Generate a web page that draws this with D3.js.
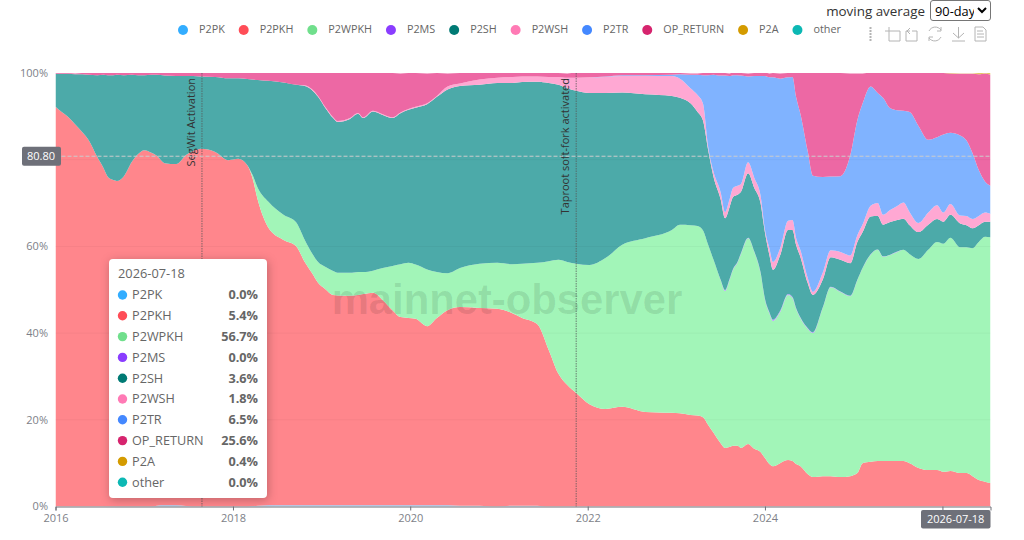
<!DOCTYPE html>
<html>
<head>
<meta charset="utf-8">
<script src="https://cdn.jsdelivr.net/npm/d3@7/dist/d3.min.js"></script>
<style>
  html, body { margin: 0; padding: 0; background: #fff; }
  body { width: 1024px; height: 540px; overflow: hidden; position: relative; font-family: "Open Sans", "Noto Sans", sans-serif; }
  #ma { position: absolute; right: 33px; top: 0; height: 21px; display: flex; align-items: center; gap: 5px; font-size: 13.4px; color: #333; }
  #ma select { font: 12.8px "Open Sans", sans-serif; height: 21px; width: 61px; padding: 0; color: #000; background: #fff; border: 1px solid #767676; border-radius: 3px; }
  svg { position: absolute; left: 0; top: 0; }
  svg text { font-family: "Open Sans", "Noto Sans", sans-serif; }
</style>
</head>
<body>
<div id="ma"><label for="window">moving average</label><select id="window"><option>90-day</option></select></div>
<svg id="chart" width="1024" height="540"></svg>
<script>
// Sample dates, as decimal years
const years = [
  2016.00,2016.07,2016.14,2016.22,2016.30,2016.37,2016.47,2016.54,2016.59,2016.65,
  2016.69,2016.77,2016.86,2016.93,2017.00,2017.08,2017.14,2017.23,2017.36,2017.47,
  2017.55,2017.64,2017.80,2017.95,2018.06,2018.16,2018.22,2018.28,2018.40,2018.57,
  2018.71,2018.81,2018.89,2018.96,2019.04,2019.13,2019.18,2019.32,2019.41,2019.47,
  2019.58,2019.69,2019.80,2019.89,2019.98,2020.06,2020.19,2020.30,2020.42,2020.56,
  2020.78,2020.98,2021.15,2021.26,2021.43,2021.56,2021.67,2021.77,2021.87,2022.02,
  2022.20,2022.39,2022.65,2022.95,2023.04,2023.16,2023.24,2023.30,2023.36,2023.42,
  2023.50,2023.55,2023.60,2023.64,2023.69,2023.73,2023.81,2023.88,2023.95,2024.00,
  2024.05,2024.09,2024.17,2024.26,2024.31,2024.35,2024.40,2024.48,2024.54,2024.65,
  2024.74,2024.85,2024.96,2025.04,2025.10,2025.19,2025.27,2025.33,2025.41,2025.49,
  2025.56,2025.63,2025.73,2025.84,2025.94,2026.01,2026.09,2026.20,2026.27,2026.34,
  2026.41,2026.48,2026.545
];

// Share of output value per script type, percent
const P2PK = [
  0,0,0,0,0,0,0,0,0,0,
  0,0,0,0,0,0,.2,.3,.3,.1,
  0,0,0,0,0,0,.1,.2,.3,.3,
  .3,.3,.3,.3,.3,.3,.3,.3,.3,.3,
  .3,.3,.3,.3,.3,.3,.3,.3,.3,.2,
  .2,0,.2,.2,.2,0,0,0,0,0,
  0,0,0,0,0,0,0,0,0,0,
  0,0,0,0,0,0,0,0,0,0,
  0,0,0,0,0,0,0,0,0,0,
  0,0,0,0,0,0,0,0,0,0,
  0,0,0,0,0,0,0,0,0,0,
  0,0,0
];
const P2PKH = [
  92.2,91.0,89.9,88.2,86.4,84.6,80.6,78.1,76.0,75.3,
  75.1,76.2,79.5,81.3,82.2,81.6,80.7,78.9,78.7,81.0,
  82.0,82.5,81.8,79.9,80.2,78.8,75.7,70.5,64.0,61.2,
  59.8,56.1,53.6,51.3,49.9,48.5,48.4,48.3,48.5,48.7,
  49.0,47.3,45.0,43.4,43.2,43.0,41.3,43.2,45.0,45.8,
  45.6,45.6,44.4,43.3,41.9,36.1,30.6,28.0,26.2,23.6,
  22.5,23.0,21.8,21.6,21.5,21.1,21.0,20.6,18.8,17.0,
  14.6,13.5,13.7,14.0,14.0,13.5,14.4,13.3,12.6,11.2,
  9.8,9.3,10.0,10.7,10.5,9.8,9.3,7.5,6.8,7.0,
  7.0,6.8,7.0,7.7,10.0,10.3,10.5,10.5,10.5,10.5,
  10.5,10.0,8.9,8.4,8.4,8.0,8.2,7.7,7.7,7.0,
  6.1,5.7,5.4
];
const P2WPKH = [
  0,0,0,0,0,0,0,0,0,0,
  0,0,0,0,0,0,0,0,0,0,
  0,0,0,0,0,0,.7,2.8,6.0,5.8,
  5.5,5.1,4.6,4.8,5.1,5.5,5.2,5.3,5.3,5.1,
  5.1,7.4,10.2,12.2,12.7,12.5,13.1,10.6,8.5,9.0,
  10.2,10.6,11.3,12.5,14.1,20.5,26.3,28.4,29.8,32.1,
  34.8,37.4,40.1,42.2,43.5,43.8,43.7,43.1,41.5,39.9,
  37.6,36.2,38.5,40.6,42.2,44.8,47.5,45.4,41.3,36.5,
  34.8,33.5,34.8,38.1,37.6,35.8,34.1,33.5,33.2,38.8,
  43.6,42.7,41.5,44.5,45.0,47.8,48.7,47.1,47.5,48.2,
  48.7,48.2,48.2,50.8,52.6,52.6,53.8,52.1,52.1,52.6,
  54.9,56.5,56.7
];
const P2MS = [
  0,0,0,0,0,0,0,0,0,0,
  0,0,0,0,0,0,0,0,0,0,
  0,0,0,0,0,0,0,0,0,0,
  0,0,0,0,0,0,0,0,0,0,
  0,0,0,0,0,0,0,0,0,0,
  0,0,0,0,0,0,0,0,0,0,
  0,0,0,0,0,0,0,0,0,0,
  .1,.2,.2,.2,.2,.2,.1,.1,.2,.2,
  .2,.3,.3,.2,.2,.2,.2,.2,.2,.1,
  .1,.1,.1,.1,.1,.1,.1,.1,.1,.1,
  0,0,0,0,0,0,0,0,0,0,
  0,0,0
];
const P2SH = [
  7.6,8.8,9.9,11.5,13.3,15.0,18.9,21.5,23.5,24.2,
  24.5,23.3,20.1,18.2,17.3,18.0,18.7,20.2,20.3,18.2,
  17.3,16.7,17.3,18.9,18.6,19.8,22.0,24.9,27.9,30.5,
  31.7,35.5,37.6,38.1,36.7,35.3,34.8,35.5,36.5,35.5,
  36.7,35.3,34.1,34.8,35.3,36.2,38.1,40.4,42.4,42.0,
  41.3,41.5,41.8,41.9,41.8,41.1,40.4,40.1,39.9,39.7,
  38.1,35.1,33.2,30.9,29.3,28.1,26.3,25.4,21.9,19.1,
  18.6,16.6,16.6,16.6,15.5,14.1,14.9,14.7,15.9,15.3,
  13.2,11.5,12.8,14.8,15.5,14.6,13.9,10.4,8.6,6.4,
  6.8,7.3,7.5,8.7,8.2,8.7,7.7,7.3,7.5,7.3,
  7.2,6.7,6.2,5.8,5.3,5.1,5.3,5.5,5.1,4.6,
  3.9,3.5,3.6
];
const P2WSH = [
  0,0,0,0,0,0,0,0,0,0,
  0,0,0,0,0,0,0,0,0,0,
  0,0,0,0,0,0,0,0,0,0,
  0,.2,.2,.2,.2,.2,.2,.2,.2,.2,
  .2,.2,.2,.2,.2,.2,.2,.2,.7,.6,
  1.2,1.2,1.4,1.3,1.2,1.4,1.8,2.4,3.0,3.6,
  3.7,3.8,4.2,4.6,4.4,3.5,3.9,3.9,.7,1.2,
  1.6,1.4,1.8,2.1,2.1,1.8,2.5,2.3,1.8,.7,
  1.6,1.8,1.6,2.1,2.3,1.6,1.6,1.2,.7,1.6,
  1.6,1.8,1.8,1.6,1.8,2.5,3.0,2.3,2.8,3.2,
  3.7,3.0,2.1,2.8,3.2,2.1,2.5,1.8,2.1,2.1,
  2.1,2.1,1.8
];
const P2TR = [
  0,0,0,0,0,0,0,0,0,0,
  0,0,0,0,0,0,0,0,0,0,
  0,0,0,0,0,0,0,0,0,0,
  0,0,0,0,0,0,0,0,0,0,
  0,0,0,0,0,0,0,0,0,0,
  0,0,0,0,0,0,0,0,0,0,
  .1,.2,.2,.3,1.0,3.1,4.7,6.5,16.6,22.4,
  26.9,31.5,28.5,26.0,25.5,25.0,19.8,23.5,27.5,35.4,
  39.4,42.6,39.2,33.1,33.0,32.5,31.4,29.3,26.8,22.1,
  17.0,17.5,23.1,26.5,27.9,27.5,25.4,27.0,23.5,22.1,
  21.2,23.1,22.4,16.8,15.7,18.0,16.4,18.5,17.5,15.2,
  10.6,7.2,6.5
];
const OP_RETURN = [
  .2,.2,.2,.2,.3,.5,.5,.5,.5,.5,
  .5,.5,.5,.5,.5,.5,.5,.6,.7,.7,
  .7,.8,.9,1.2,1.3,1.4,1.5,1.6,1.8,2.3,
  2.7,2.8,3.7,5.3,7.8,10.2,11.1,10.4,9.2,10.2,
  8.8,9.5,10.2,9.0,8.3,7.8,6.9,5.3,3.0,2.4,
  1.6,1.2,.9,.9,.9,.9,.9,1.0,1.2,1.0,
  .9,.8,.6,.4,.3,.3,.3,.5,.5,.5,
  .6,.6,.6,.6,.6,.6,.7,.7,.7,.8,
  .9,1.0,1.2,1.0,.9,5.5,9.5,18.0,23.8,24.0,
  23.9,23.8,18.9,10.8,6.9,3.2,4.6,5.8,8.1,8.6,
  8.8,9.0,12.2,15.4,14.8,14.2,13.7,14.2,15.3,18.3,
  22.1,24.9,25.6
];
const P2A = [
  0,0,0,0,0,0,0,0,0,0,
  0,0,0,0,0,0,0,0,0,0,
  0,0,0,0,0,0,0,0,0,0,
  0,0,0,0,0,0,0,0,0,0,
  0,0,0,0,0,0,0,0,0,0,
  0,0,0,0,0,0,0,0,0,0,
  0,0,0,0,0,0,0,0,0,0,
  0,0,0,0,0,0,0,0,0,0,
  0,0,0,0,0,0,0,0,0,0,
  0,0,0,0,0,0,0,0,0,0,
  0,0,0,0,0,.1,.1,.1,.1,.1,
  .3,.3,.4
];
const other = [
  0,0,0,0,0,0,0,0,0,0,
  0,0,0,0,0,0,0,0,0,0,
  0,0,0,0,0,0,0,0,0,0,
  0,0,0,0,0,0,0,0,0,0,
  0,0,0,0,0,0,0,0,0,0,
  0,0,0,0,0,0,0,0,0,0,
  0,0,0,0,0,0,0,0,0,0,
  0,0,0,0,0,0,0,0,0,0,
  0,0,0,0,0,0,0,0,0,0,
  0,0,0,0,0,0,0,0,0,0,
  0,0,0,0,0,0,0,0,0,0,
  0,0,0
];

const seriesNames = ["P2PK","P2PKH","P2WPKH","P2MS","P2SH","P2WSH","P2TR","OP_RETURN","P2A","other"];
const seriesValues = [P2PK,P2PKH,P2WPKH,P2MS,P2SH,P2WSH,P2TR,OP_RETURN,P2A,other];
const markerColors = ["#33adff","#ff4d57","#70df8c","#8a3dff","#007a74","#ff7ab5","#4488ff","#d6246e","#d49b00","#0cb8b4"];
const areaColors   = ["#85ceff","#ff868c","#a2f5b8","#b998ff","#4caaa9","#ffa8d3","#80b3ff","#ed68a4","#e5c566","#66d6d2"];

const yTicks = [0,20,40,60,80,100];
const xTickYears = [2016,2018,2020,2022,2024,2026];
const softForks = [
  { name: "SegWit Activation", year: 2017.65 },
  { name: "Taproot soft-fork activated", year: 2021.87 }
];
const crosshairValue = 80.80;
const crosshairDate = "2026-07-18";
const endDate = new Date(Date.UTC(2026, 6, 18));

function yearToDate(y) {
  const whole = Math.floor(y);
  const a = Date.UTC(whole, 0, 1), b = Date.UTC(whole + 1, 0, 1);
  return new Date(a + (y - whole) * (b - a));
}

const plot = { left: 55.5, right: 990.5, top: 73, bottom: 506.5 };
const x = d3.scaleUtc().domain([new Date(Date.UTC(2016,0,1)), endDate]).range([plot.left, plot.right]);
const y = d3.scaleLinear().domain([0,100]).range([plot.bottom, plot.top]);

const svg = d3.select("#chart");
svg.append("defs").append("clipPath").attr("id","plotClip").append("rect")
  .attr("x",plot.left).attr("y",plot.top).attr("width",plot.right-plot.left).attr("height",plot.bottom-plot.top);

// Stacked areas
const rows = years.map((yr,i) => {
  const r = { date: i === years.length - 1 ? endDate : yearToDate(yr) };
  seriesNames.forEach((n,k) => r[n] = seriesValues[k][i]);
  return r;
});
const stacked = d3.stack().keys(seriesNames)(rows);
const area = d3.area().curve(d3.curveMonotoneX).x(d => x(d.data.date)).y0(d => y(d[0])).y1(d => y(d[1]));
svg.append("g").attr("clip-path","url(#plotClip)").selectAll("path").data(stacked).join("path")
  .attr("d",area).attr("fill",(d,i) => areaColors[i]);

// Horizontal grid showing faintly through the fills
svg.append("g").selectAll("line").data(yTicks.filter(t => t > 0 && t < 100)).join("line")
  .attr("x1",plot.left).attr("x2",plot.right).attr("y1",d => y(d)).attr("y2",d => y(d))
  .attr("stroke","#000").attr("stroke-opacity",.035);

// Y labels; the crosshair badge takes the place of the one it sits on
svg.append("g").selectAll("text").data(yTicks.filter(t => Math.abs(t - crosshairValue) > 3)).join("text")
  .attr("x",48).attr("y",d => y(d)).attr("dy","0.35em").attr("text-anchor","end")
  .attr("font-size",11).attr("fill","#7d7f88").text(d => d + "%");

// X axis; the date badge replaces the final year label
const xAxis = d3.axisBottom(x)
  .tickValues(xTickYears.map(v => new Date(Date.UTC(v,0,1))))
  .tickFormat(d => d.getUTCFullYear() === 2026 ? "" : d3.utcFormat("%Y")(d)).tickSize(4).tickPadding(4);
const gx = svg.append("g").attr("transform",`translate(0,${plot.bottom})`).call(xAxis);
gx.select(".domain").attr("stroke","#6e7079");
gx.selectAll(".tick line").attr("stroke","#6e7079");
gx.selectAll("text").attr("font-size",11).attr("fill","#7d7f88");

// Watermark
svg.append("text").attr("x",507).attr("y",314).attr("text-anchor","middle")
  .style("font-family","'Liberation Sans', Arial, sans-serif").attr("font-weight",700).attr("font-size",41.8)
  .attr("fill","#000").attr("fill-opacity",.1).text("mainnet-observer");

// Soft-fork activation markers
const forks = svg.append("g").selectAll("g").data(softForks).join("g");
forks.append("line")
  .attr("x1",d => x(yearToDate(d.year))).attr("x2",d => x(yearToDate(d.year)))
  .attr("y1",plot.top).attr("y2",plot.bottom)
  .attr("stroke","#555").attr("stroke-opacity",.75).attr("stroke-dasharray","1.5 1");
forks.append("text")
  .attr("transform",d => `translate(${x(yearToDate(d.year)) - 7},78) rotate(-90)`)
  .attr("text-anchor","end").attr("font-size",11).attr("fill","#333").text(d => d.name);

// Crosshair at the pointer
svg.append("line").attr("x1",plot.left).attr("x2",plot.right)
  .attr("y1",y(crosshairValue)).attr("y2",y(crosshairValue))
  .attr("stroke","#ccc").attr("stroke-dasharray","4 2");
const yBadge = svg.append("g");
yBadge.append("rect").attr("x",22).attr("y",y(crosshairValue)-9.5).attr("width",39).attr("height",19).attr("rx",2).attr("fill","#6e7079");
yBadge.append("text").attr("x",41).attr("y",y(crosshairValue)).attr("dy","0.35em").attr("text-anchor","middle")
  .attr("font-size",11).attr("fill","#fff").text(crosshairValue.toFixed(2));
const xBadge = svg.append("g");
xBadge.append("rect").attr("x",921).attr("y",510).attr("width",69.5).attr("height",18.5).attr("rx",2).attr("fill","#6e7079");
xBadge.append("text").attr("x",955.7).attr("y",519).attr("dy","0.35em").attr("text-anchor","middle")
  .attr("font-size",11).attr("fill","#fff").text(crosshairDate);

// Legend, flowed from the measured label widths
const legend = svg.append("g");
let cursor = 183;
seriesNames.forEach((name,i) => {
  legend.append("circle").attr("cx",cursor).attr("cy",30).attr("r",5).attr("fill",markerColors[i]);
  const t = legend.append("text").attr("x",cursor + 16).attr("y",29).attr("dy","0.35em")
    .attr("font-size",10.8).attr("fill","#666").text(name);
  cursor += 16 + t.node().getComputedTextLength() + 18.9;
});

// Toolbox glyphs
const tools = svg.append("g").attr("fill","none").attr("stroke","#b4b4b4").attr("stroke-width",1);
tools.append("path").attr("d","M870.5 27V41").attr("stroke-width",2).attr("stroke-dasharray","2 1");
tools.append("path").attr("d","M885 31H900V41H889V27");
tools.append("path").attr("d","M910 31H906V41H917V31H912M910 28L907 31L910 34");
tools.append("path").attr("d","M941 30A7 7 0 0 0 929 31M929 38A7 7 0 0 0 941 37M941 27V31H937M929 41V37H933");
tools.append("path").attr("d","M958.5 27V38M953 33L958.5 38L964 33M952 41H965");
tools.append("path").attr("d","M975 27H983L986 30V41H975ZM977 31H983M977 34H984M977 37H984");

// Tooltip for the latest day
const tip = svg.append("g").style("filter","drop-shadow(1px 2px 5px rgba(0,0,0,0.25))");
tip.append("rect").attr("x",109).attr("y",259).attr("width",158).attr("height",239).attr("rx",4).attr("fill","#fff");
const tipText = svg.append("g");
tipText.append("text").attr("x",118).attr("y",274).attr("dy","0.35em").attr("font-size",12.8).attr("fill","#666").text(crosshairDate);
seriesNames.forEach((name,i) => {
  const cy = 295 + i * 20.8;
  const last = seriesValues[i][seriesValues[i].length - 1];
  tipText.append("circle").attr("cx",122.5).attr("cy",cy).attr("r",4.7).attr("fill",markerColors[i]);
  tipText.append("text").attr("x",132).attr("y",cy).attr("dy","0.35em").attr("font-size",12.7).attr("fill","#666").text(name);
  tipText.append("text").attr("x",258).attr("y",cy).attr("dy","0.35em").attr("text-anchor","end")
    .attr("font-size",12.7).attr("font-weight",700).attr("fill","#666").text(last.toFixed(1) + "%");
});
</script>
</body>
</html>
